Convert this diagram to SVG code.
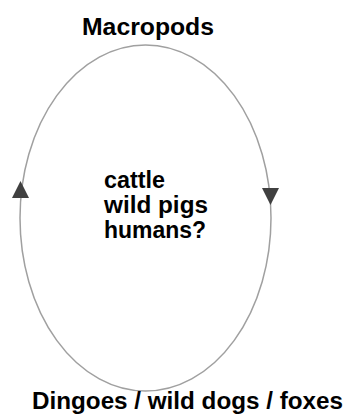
<svg xmlns="http://www.w3.org/2000/svg" width="345" height="414" viewBox="0 0 345 414">
<style>
.lbl{font-family:"Liberation Sans",Arial,sans-serif;font-weight:bold;font-size:23px;fill:#000}
.cyc{fill:none;stroke:#a0a0a0;stroke-width:1.5}
.arr{fill:#404040}
</style>
<rect width="345" height="414" fill="#fff"/>
<g id="connectors">
<ellipse class="cyc" cx="145.5" cy="218" rx="125.5" ry="173"/>
<polygon class="arr" points="20.5,181 12,198 29,198"/>
<polygon class="arr" points="270.5,205 262,188 279,188"/>
</g>
<g id="macropods"><text class="lbl" x="82" y="35" textLength="132" lengthAdjust="spacingAndGlyphs">Macropods</text></g>
<g id="others">
<text class="lbl" x="104" y="188" textLength="61" lengthAdjust="spacingAndGlyphs">cattle</text>
<text class="lbl" x="104" y="213" textLength="104" lengthAdjust="spacingAndGlyphs">wild pigs</text>
<text class="lbl" x="104" y="238" textLength="102" lengthAdjust="spacingAndGlyphs">humans?</text>
</g>
<g id="predators"><text class="lbl" x="32" y="409" textLength="311" lengthAdjust="spacingAndGlyphs">Dingoes / wild dogs / foxes</text></g>
</svg>
